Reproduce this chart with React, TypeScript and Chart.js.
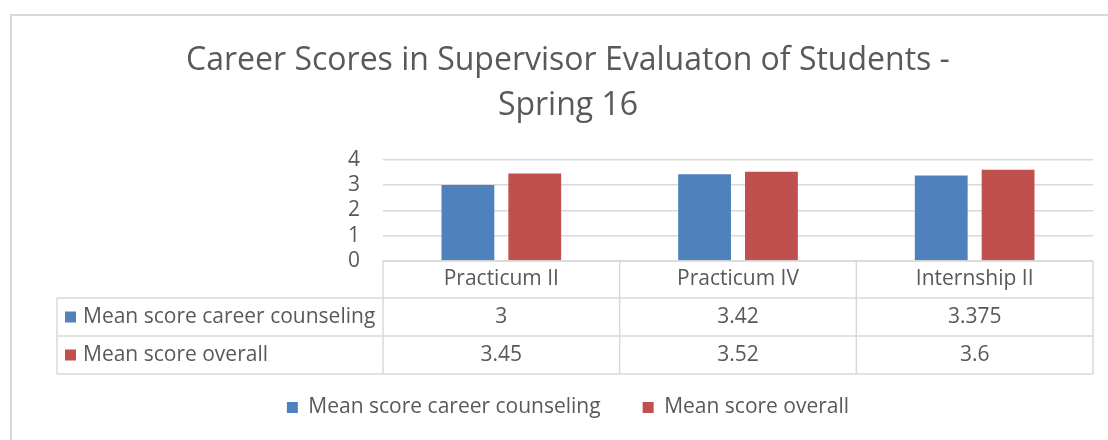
import React, { useEffect, useRef } from "react";
import { Chart, registerables } from "chart.js";

Chart.register(...registerables);

const titleLines = ["Career Scores in Supervisor Evaluaton of Students -", "Spring 16"];
const categories = ["Practicum II", "Practicum IV", "Internship II"];
const seriesNames = ["Mean score career counseling", "Mean score overall"];
const careerCounseling = [3, 3.42, 3.375];
const overallScore = [3.45, 3.52, 3.6];
const yTicks = [0, 1, 2, 3, 4];

const BLUE = "#4F81BD";
const RED = "#C0504D";
const TEXT = "#595959";
const GRID = "#D9D9D9";
const FONT = "'Open Sans', sans-serif";

const frameAndTablePlugin = {
  id: "frameAndTable",
  beforeDraw(chart: any) {
    const { ctx, width, height } = chart;
    ctx.save();
    ctx.fillStyle = "#ffffff";
    ctx.fillRect(0, 0, width, height);
    ctx.strokeStyle = GRID;
    ctx.lineWidth = 2;
    ctx.strokeRect(11, 15, width + 100, height + 100);
    ctx.restore();
  },
  afterDraw(chart: any) {
    const { ctx, chartArea } = chart;
    const xs = chart.scales.x;
    const n = categories.length;
    const colW = (xs.right - xs.left) / n;
    const top = chartArea.bottom;
    const headerH = 37;
    const rowH = 38;
    const labelLeft = 57;
    const bottom = top + headerH + rowH * 2;
    const rows = [
      { name: seriesNames[0], color: BLUE, values: careerCounseling },
      { name: seriesNames[1], color: RED, values: overallScore },
    ];
    ctx.save();
    ctx.strokeStyle = GRID;
    ctx.lineWidth = 1.5;
    const line = (x1: number, y1: number, x2: number, y2: number) => {
      ctx.beginPath();
      ctx.moveTo(x1, y1);
      ctx.lineTo(x2, y2);
      ctx.stroke();
    };
    line(xs.left, top, xs.right, top);
    for (let r = 0; r <= rows.length; r++) {
      const y = top + headerH + rowH * r;
      line(labelLeft, y, xs.right, y);
    }
    for (let i = 0; i <= n; i++) {
      const x = xs.left + colW * i;
      line(x, top, x, bottom);
    }
    line(labelLeft, top + headerH, labelLeft, bottom);

    ctx.fillStyle = TEXT;
    ctx.font = `21px ${FONT}`;
    ctx.textBaseline = "middle";
    ctx.textAlign = "center";
    categories.forEach((c, i) => {
      ctx.fillText(c, xs.getPixelForValue(i), top + headerH / 2);
    });
    rows.forEach((row, r) => {
      const cy = top + headerH + rowH * r + rowH / 2;
      ctx.fillStyle = row.color;
      ctx.fillRect(labelLeft + 8, cy - 5.5, 11, 11);
      ctx.fillStyle = TEXT;
      ctx.textAlign = "left";
      ctx.fillText(row.name, labelLeft + 26, cy);
      ctx.textAlign = "center";
      row.values.forEach((v, i) => {
        ctx.fillText(String(v), xs.getPixelForValue(i), cy);
      });
    });
    ctx.restore();
  },
};

export default function App() {
  const canvasRef = useRef<HTMLCanvasElement | null>(null);

  useEffect(() => {
    const canvas = canvasRef.current;
    if (!canvas) return;
    const chart = new Chart(canvas, {
      type: "bar",
      data: {
        labels: categories,
        datasets: [
          {
            label: seriesNames[0],
            data: careerCounseling,
            backgroundColor: BLUE,
            borderWidth: 0,
            categoryPercentage: 0.565,
            barPercentage: 0.79,
          },
          {
            label: seriesNames[1],
            data: overallScore,
            backgroundColor: RED,
            borderWidth: 0,
            categoryPercentage: 0.565,
            barPercentage: 0.79,
          },
        ],
      },
      options: {
        responsive: false,
        animation: false,
        devicePixelRatio: 1,
        events: [],
        layout: { padding: { left: 43, right: 15, top: 0, bottom: 12 } },
        plugins: {
          title: {
            display: true,
            text: titleLines,
            color: TEXT,
            font: { family: FONT, size: 32, weight: "normal", lineHeight: 1.4 },
            padding: { top: 38.5, bottom: 31.5 },
          },
          legend: {
            position: "bottom",
            labels: {
              boxWidth: 11,
              boxHeight: 11,
              padding: 42,
              color: TEXT,
              font: { family: FONT, size: 21 },
            },
          },
          tooltip: { enabled: false },
        },
        scales: {
          x: {
            display: true,
            grid: { display: false },
            border: { display: false },
            ticks: { display: false },
            afterFit: (s: any) => {
              s.height = 94;
            },
          },
          y: {
            min: yTicks[0],
            max: yTicks[yTicks.length - 1],
            afterBuildTicks: (s: any) => {
              s.ticks = yTicks.map((v) => ({ value: v }));
            },
            grid: { color: GRID, lineWidth: 1.5, drawTicks: false },
            border: { display: false },
            ticks: {
              color: TEXT,
              padding: 23,
              autoSkip: false,
              font: { family: FONT, size: 21 },
            },
            afterFit: (s: any) => {
              s.width = 340;
            },
          },
        },
      },
      plugins: [frameAndTablePlugin],
    });
    return () => chart.destroy();
  }, []);

  return (
    <div style={{ position: "absolute", left: 0, top: 0, width: 1108, height: 440, background: "#fff" }}>
      <canvas ref={canvasRef} width={1108} height={440} style={{ display: "block" }} />
    </div>
  );
}
